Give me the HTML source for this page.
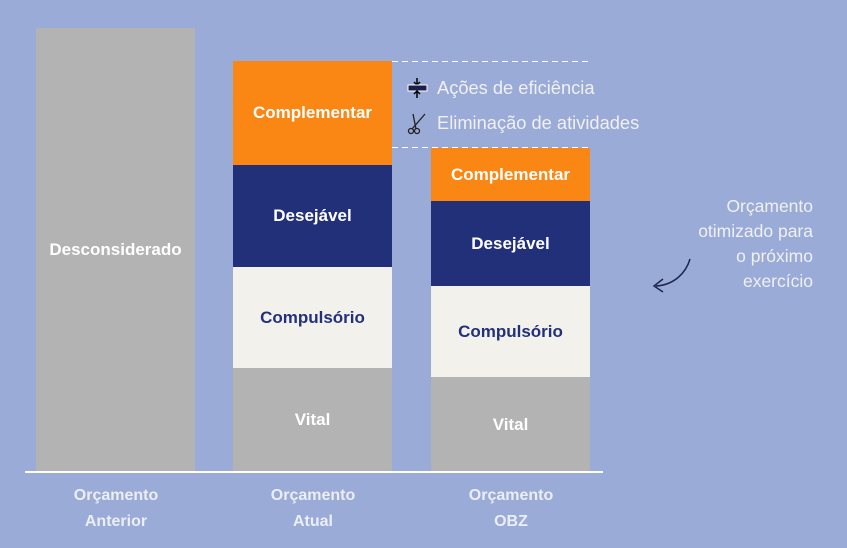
<!DOCTYPE html>
<html><head><meta charset="utf-8"><style>
body{margin:0;width:847px;height:548px;background:#9aabd8;position:relative;overflow:hidden;font-family:"Liberation Sans","DejaVu Sans",sans-serif}
.b{position:absolute;display:flex;align-items:center;justify-content:center;font-weight:bold;font-size:17px}
.w{color:#fff}.n{color:#23307a}
.lab{position:absolute;width:160px;text-align:center;color:#eceef5;font-weight:bold;font-size:16px;line-height:26px;top:483px}
.t{position:absolute;color:#f0f0f0;font-size:18.3px}
</style></head><body>
<div class="b w" style="left:36px;top:28px;width:159px;height:444px;background:#b3b3b3">Desconsiderado</div>

<div class="b w" style="left:233px;top:61px;width:159px;height:104px;background:#fa8714">Complementar</div>
<div class="b w" style="left:233px;top:165px;width:159px;height:102px;background:#22307a">Desejável</div>
<div class="b n" style="left:233px;top:267px;width:159px;height:101px;background:#f3f1ec">Compulsório</div>
<div class="b w" style="left:233px;top:368px;width:159px;height:104px;background:#b3b3b3">Vital</div>

<div class="b w" style="left:431px;top:148px;width:159px;height:53px;background:#fa8714">Complementar</div>
<div class="b w" style="left:431px;top:201px;width:159px;height:85px;background:#22307a">Desejável</div>
<div class="b n" style="left:431px;top:286px;width:159px;height:91px;background:#f3f1ec">Compulsório</div>
<div class="b w" style="left:431px;top:377px;width:159px;height:95px;background:#b3b3b3">Vital</div>

<div style="position:absolute;left:25px;top:471px;width:578px;height:2px;background:#fff"></div>
<svg style="position:absolute;left:392px;top:60px" width="202" height="90">
<path d="M0 1.5H200M0 87.5H200" stroke="#fff" stroke-width="1" stroke-dasharray="6 4"/>
</svg>

<div class="lab" style="left:36px">Orçamento<br>Anterior</div>
<div class="lab" style="left:233px">Orçamento<br>Atual</div>
<div class="lab" style="left:431px">Orçamento<br>OBZ</div>

<svg style="position:absolute;left:405px;top:78px" width="24" height="58">
<path d="M12 0v6M9 4l3 3 3-3" stroke="#000" stroke-width="1.5" fill="none"/>
<rect x="3" y="7" width="19" height="6" fill="#1a1f4a" stroke="#fff" stroke-width="1"/>
<path d="M12 20v-6M9 16l3-3 3 3" stroke="#000" stroke-width="1.5" fill="none"/>
<g stroke="#222" stroke-width="1.3" fill="none"><circle cx="6" cy="53" r="2.5"/><circle cx="12" cy="53" r="2.5"/><path d="M7 51L20 36M11 51L8 36"/></g>
</svg>
<div class="t" style="left:437px;top:77px">Ações de eficiência</div>
<div class="t" style="left:437px;top:112px">Eliminação de atividades</div>

<div style="position:absolute;right:34px;top:194px;text-align:right;color:#f0f0f0;font-size:17.5px;line-height:25px">Orçamento<br>otimizado para<br>o próximo<br>exercício</div>
<svg style="position:absolute;left:648px;top:255px" width="50" height="40">
<path d="M42 4C38 18 26 30 8 31" stroke="#1e2550" stroke-width="1.5" fill="none"/>
<path d="M15 24L6 31 15 37" stroke="#1e2550" stroke-width="1.5" fill="none"/>
</svg>
</body></html>
